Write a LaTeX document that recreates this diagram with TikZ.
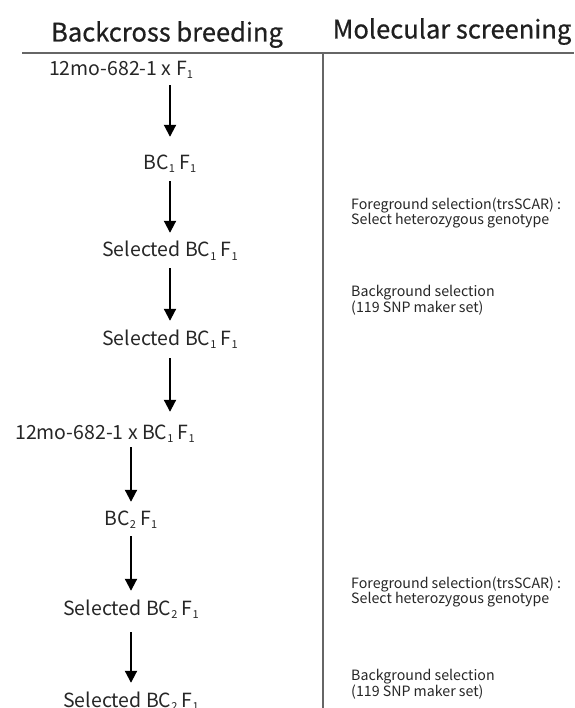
\documentclass[tikz,border=0pt]{standalone}
\usepackage{fontspec}
\setmainfont{Noto Sans CJK KR}
\newfontfamily\titlefont{Noto Sans CJK KR}[FakeBold=0.6]
\usetikzlibrary{arrows.meta}
\newcommand\sbs[1]{\raisebox{-3pt}{\fontsize{11}{11}\selectfont #1}}
\begin{document}
\begin{tikzpicture}[x=1pt,y=-1pt,
  title/.style={font=\titlefont\fontsize{25.5}{28}\selectfont, text=black!88, inner sep=0pt, anchor=base},
  flow/.style={font=\fontsize{19.5}{22}\selectfont, text=black!85, inner sep=0pt, anchor=base, text height=14pt, text depth=0pt},
  note/.style={font=\fontsize{14.2}{15.5}\selectfont, text=black!85, align=left, anchor=west, inner sep=0pt},
  arr/.style={-{Triangle[width=12pt,length=12pt]}, line width=2pt, shorten <=11pt, shorten >=10pt},
  rule/.style={draw=black!60, line width=2pt}]
\useasboundingbox (0,0) rectangle (574,708);
% headings and rules
\node[title] (h1) at (167,41.5) {Backcross breeding};
\node[title] (h2) at (452,38.5) {Molecular screening};
\coordinate (hl) at (22,53);
\coordinate (hr) at (574,53);
\coordinate (vt) at (323,53);
\coordinate (vb) at (323,708);
\draw[rule] (hl) -- (hr);
\draw[rule] (vt) -- (vb);
% breeding flow
\node[flow] (a) at (121,76) {12mo-682-1 x F\sbs{1}};
\node[flow] (b) at (170,170) {BC\sbs{1} F\sbs{1}};
\node[flow] (c) at (170,257) {Selected BC\sbs{1} F\sbs{1}};
\node[flow] (d) at (170,345) {Selected BC\sbs{1} F\sbs{1}};
\node[flow] (e) at (105,439) {12mo-682-1 x BC\sbs{1} F\sbs{1}};
\node[flow] (f) at (131,525) {BC\sbs{2} F\sbs{1}};
\node[flow] (g) at (131,615) {Selected BC\sbs{2} F\sbs{1}};
\node[flow] (h) at (131,707) {Selected BC\sbs{2} F\sbs{1}};
\draw[arr, shorten <=9pt, shorten >=19pt] (a.south -| b) -- (b.north);
\draw[arr] (b) -- (c);
\draw[arr] (c) -- (d);
\draw[arr, shorten <=13pt, shorten >=13pt] (d) -- (e.north -| d);
\draw[arr, shorten <=8pt, shorten >=9pt] (e.south -| f) -- (f.north);
\draw[arr] (f) -- (g);
\draw[arr, shorten <=17pt] (g) -- (h);
% screening notes
\node[note] (n1) at (351,213) {Foreground selection(trsSCAR) :\\Select heterozygous genotype};
\node[note] (n2) at (351,300) {Background selection\\(119 SNP maker set)};
\node[note] (n3) at (351,592) {Foreground selection(trsSCAR) :\\Select heterozygous genotype};
\node[note] (n4) at (351,684) {Background selection\\(119 SNP maker set)};
\end{tikzpicture}
\end{document}
